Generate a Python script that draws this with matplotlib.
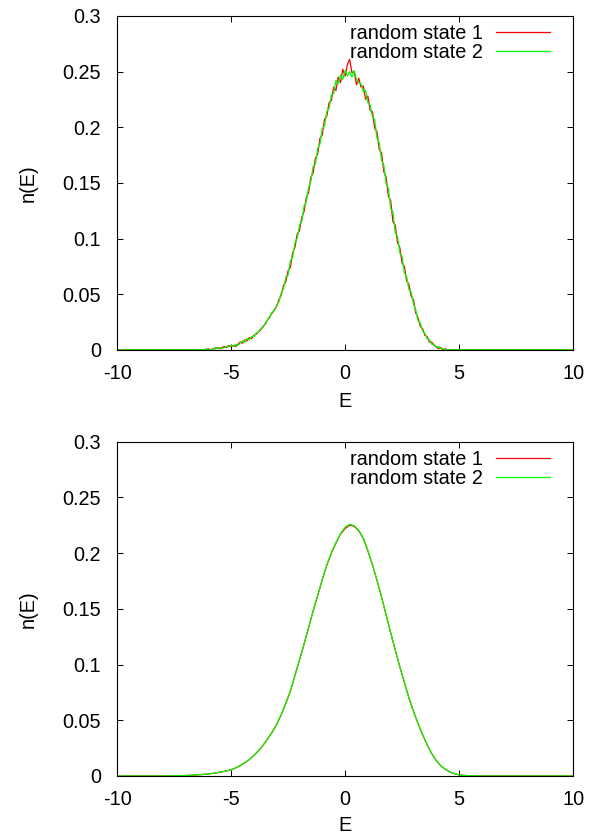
import numpy as np
import matplotlib
matplotlib.use('Agg')
import matplotlib.pyplot as plt
from matplotlib.ticker import FormatStrFormatter

plt.rcParams['font.family'] = ['Liberation Sans', 'DejaVu Sans']
plt.rcParams['font.size'] = 14.3
plt.rcParams['axes.unicode_minus'] = False

# top panel: E grid -6.5 .. 5.0, step 0.1
e_top = np.round(np.linspace(-6.5, 5.0, 116), 2)
n_top_1 = [
    0.000, 0.000, 0.000, 0.000, 0.000, 0.001, 0.000, 0.001, 0.001, 0.002,
    0.001, 0.002, 0.003, 0.002, 0.004, 0.003, 0.004, 0.003, 0.005, 0.007,
    0.006, 0.009, 0.008, 0.011, 0.010, 0.013, 0.014, 0.016, 0.018, 0.021,
    0.023, 0.027, 0.030, 0.033, 0.036, 0.039, 0.045, 0.049, 0.058, 0.061,
    0.071, 0.074, 0.087, 0.092, 0.104, 0.107, 0.119, 0.124, 0.137, 0.141,
    0.155, 0.159, 0.172, 0.176, 0.190, 0.193, 0.207, 0.210, 0.222, 0.224,
    0.236, 0.233, 0.245, 0.240, 0.252, 0.246, 0.256, 0.261, 0.249, 0.250,
    0.238, 0.244, 0.236, 0.237, 0.225, 0.228, 0.215, 0.214, 0.199, 0.196,
    0.180, 0.177, 0.160, 0.155, 0.138, 0.134, 0.115, 0.112, 0.096, 0.092,
    0.078, 0.075, 0.062, 0.059, 0.048, 0.045, 0.033, 0.029, 0.021, 0.019,
    0.013, 0.012, 0.007, 0.007, 0.004, 0.003, 0.001, 0.002, 0.000, 0.001,
    0.000, 0.000, 0.000, 0.000, 0.000, 0.000,
]
n_top_2 = [
    0.000, 0.000, 0.000, 0.000, 0.001, 0.000, 0.000, 0.001, 0.002, 0.001,
    0.002, 0.001, 0.002, 0.003, 0.003, 0.004, 0.003, 0.005, 0.004, 0.006,
    0.008, 0.007, 0.010, 0.009, 0.012, 0.012, 0.015, 0.016, 0.019, 0.020,
    0.024, 0.027, 0.029, 0.034, 0.035, 0.040, 0.043, 0.051, 0.055, 0.065,
    0.067, 0.080, 0.083, 0.096, 0.100, 0.112, 0.115, 0.129, 0.133, 0.146,
    0.151, 0.165, 0.167, 0.181, 0.185, 0.199, 0.201, 0.214, 0.217, 0.229,
    0.230, 0.242, 0.239, 0.247, 0.243, 0.251, 0.246, 0.250, 0.245, 0.251,
    0.243, 0.240, 0.239, 0.232, 0.233, 0.222, 0.220, 0.209, 0.207, 0.190,
    0.186, 0.170, 0.166, 0.149, 0.145, 0.127, 0.124, 0.105, 0.102, 0.087,
    0.084, 0.069, 0.066, 0.054, 0.052, 0.041, 0.036, 0.026, 0.024, 0.017,
    0.015, 0.010, 0.009, 0.005, 0.005, 0.002, 0.003, 0.001, 0.001, 0.000,
    0.000, 0.000, 0.000, 0.000, 0.000, 0.000,
]

# bottom panel: E grid -8.0 .. 6.0, step 0.2
e_bot = np.round(np.linspace(-8.0, 6.0, 71), 2)
n_bot_1 = [
    0.0000, 0.0001, 0.0001, 0.0002, 0.0003, 0.0004, 0.0006, 0.0008, 0.0011, 0.0014,
    0.0018, 0.0023, 0.0030, 0.0037, 0.0045, 0.0055, 0.0072, 0.0092, 0.0117, 0.0147,
    0.0183, 0.0225, 0.0274, 0.0330, 0.0392, 0.0460, 0.0550, 0.0650, 0.0760, 0.0900,
    0.1040, 0.1180, 0.1330, 0.1480, 0.1620, 0.1760, 0.1890, 0.2000, 0.2090, 0.2170,
    0.2220, 0.2250, 0.2240, 0.2200, 0.2130, 0.2020, 0.1895, 0.1755, 0.1605, 0.1445,
    0.1285, 0.1130, 0.0980, 0.0840, 0.0700, 0.0580, 0.0470, 0.0370, 0.0280, 0.0200,
    0.0138, 0.0090, 0.0060, 0.0035, 0.0020, 0.0010, 0.0005, 0.0002, 0.0001, 0.0000,
    0.0000,
]
n_bot_2 = [
    0.0000, 0.0001, 0.0001, 0.0002, 0.0003, 0.0004, 0.0006, 0.0009, 0.0011, 0.0015,
    0.0018, 0.0024, 0.0030, 0.0038, 0.0046, 0.0056, 0.0072, 0.0093, 0.0118, 0.0148,
    0.0184, 0.0226, 0.0276, 0.0331, 0.0394, 0.0462, 0.0552, 0.0652, 0.0762, 0.0902,
    0.1042, 0.1183, 0.1332, 0.1483, 0.1622, 0.1763, 0.1893, 0.2004, 0.2094, 0.2175,
    0.2232, 0.2258, 0.2246, 0.2205, 0.2134, 0.2024, 0.1897, 0.1757, 0.1606, 0.1446,
    0.1286, 0.1131, 0.0981, 0.0840, 0.0700, 0.0580, 0.0470, 0.0370, 0.0280, 0.0200,
    0.0138, 0.0090, 0.0060, 0.0035, 0.0020, 0.0010, 0.0005, 0.0002, 0.0001, 0.0000,
    0.0000,
]

labels = ['random state 1', 'random state 2']
colors = ['#ff0000', '#00ff00']

fig = plt.figure(figsize=(5.97, 8.35), dpi=100)
ax_top = fig.add_axes([0.196, 0.581, 0.764, 0.400])
ax_bot = fig.add_axes([0.196, 0.0707, 0.764, 0.4004])

panels = [(ax_top, e_top, [n_top_1, n_top_2], -0.155),
          (ax_bot, e_bot, [n_bot_1, n_bot_2], -0.147)]

for ax, e, series, xlab_y in panels:
    for n, lab, c in zip(series, labels, colors):
        x = np.concatenate([[-10.0], e, [10.0]])
        y = np.concatenate([[0.0], n, [0.0]])
        ax.plot(x, y, color=c, lw=0.9, label=lab)
    ax.set_xlim(-10, 10)
    ax.set_ylim(0, 0.3)
    ax.set_xticks([-10, -5, 0, 5, 10])
    ax.set_yticks([0, 0.05, 0.1, 0.15, 0.2, 0.25, 0.3])
    ax.yaxis.set_major_formatter(FormatStrFormatter('%g'))
    ax.tick_params(direction='in', top=True, right=True, length=4.5, width=0.7)
    ax.tick_params(axis='x', pad=10)
    ax.tick_params(axis='y', pad=11.5)
    for s in ax.spines.values():
        s.set_linewidth(0.8)
    ax.set_xlabel('E', va='center')
    ax.xaxis.set_label_coords(0.5, xlab_y)
    ax.set_ylabel('n(E)', va='center')
    ax.yaxis.set_label_coords(-0.195, 0.5)
    ax.legend(loc='upper right', bbox_to_anchor=(1 - 23 / 456, 1 - 8 / 334),
              frameon=False, markerfirst=False, handlelength=2.7,
              handletextpad=0.7, labelspacing=0.0, borderpad=0, borderaxespad=0)

fig.savefig('out.png', dpi=100)
